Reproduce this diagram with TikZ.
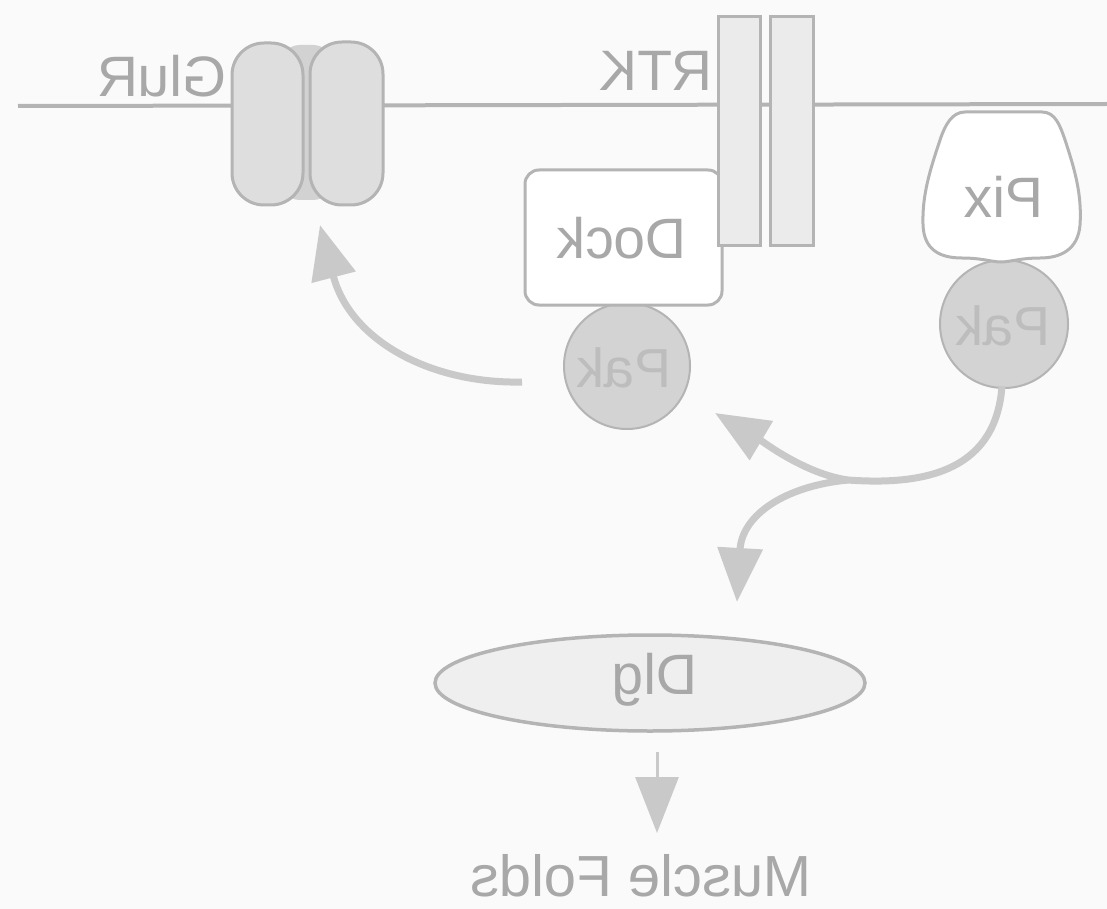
\documentclass[tikz,border=0pt]{standalone}
\usepackage{graphicx}
\usepackage{fontspec}
\setmainfont{Liberation Sans}
\usetikzlibrary{arrows.meta,shapes.geometric}
\definecolor{txtgray}{HTML}{A8A8A8}
\definecolor{edgegray}{HTML}{B4B4B4}
\definecolor{capfill}{HTML}{DEDEDE}
\definecolor{midfill}{HTML}{D2D2D2}
\definecolor{rtkfill}{HTML}{EBEBEB}
\definecolor{pakfill}{HTML}{D3D3D3}
\definecolor{pakText}{HTML}{BDBDBD}
\definecolor{arrowgray}{HTML}{C9C9C9}
\definecolor{dlgfill}{HTML}{EFEFEF}
\definecolor{bggray}{HTML}{FAFAFA}
\begin{document}
\begin{tikzpicture}[x=1pt,y=-1pt,
  lbl/.style={text=txtgray, font=\fontsize{57}{60}\selectfont, inner sep=0pt},
  membrane/.style={draw=edgegray, line width=4pt},
  capsule/.style={draw=edgegray, fill=capfill, line width=3pt, rounded corners=32pt, inner sep=0pt},
  rtkbar/.style={draw=edgegray, fill=rtkfill, line width=3pt, inner sep=0pt},
  dockbox/.style={draw=edgegray, fill=white, line width=3pt, rounded corners=14pt, inner sep=0pt},
  pakball/.style={circle, draw=edgegray, fill=pakfill, line width=2pt, inner sep=0pt},
  pixshape/.style={draw=edgegray, fill=white, line width=3pt},
  dlgshape/.style={ellipse, draw=edgegray, fill=dlgfill, line width=3.5pt, inner sep=0pt},
  bigarrow/.style={draw=arrowgray, line width=7pt, -{Triangle[length=54pt,width=44pt]}},
  stem/.style={draw=arrowgray, line width=7pt},
  smallarrow/.style={draw=arrowgray, line width=3pt, -{Triangle[length=56pt,width=43pt]}}
]
% canvas
\fill[bggray] (0,0) rectangle (1107,909);
\useasboundingbox (0,0) rectangle (1107,909);

% membrane
\coordinate (mL) at (18,106);
\coordinate (mR) at (1107,104);
\draw[membrane] (mL) -- (mR);

% GluR
\node[capsule, draw=none, fill=midfill, rounded corners=20pt, minimum width=53pt, minimum height=155pt] (glmid) at (306.5,122.5) {};
\node[capsule, minimum width=71pt, minimum height=162pt] (gl1) at (267.5,124) {};
\node[capsule, minimum width=73pt, minimum height=163pt] (gl2) at (346.5,123.5) {};
\node[lbl] (glurlbl) at (162,76) {\reflectbox{GluR}};

% Pak (left), Dock, RTK
\node[pakball, minimum size=126pt] (pakL) at (627,366) {};
\node[lbl, text=pakText, font=\fontsize{55}{58}\selectfont] (pakLlbl) at (624,368) {\reflectbox{Pak}};
\node[dockbox, minimum width=197pt, minimum height=135pt] (dock) at (623.5,237.5) {};
\node[lbl] (docklbl) at (622,238) {\reflectbox{Dock}};
\node[rtkbar, minimum width=42pt, minimum height=228pt] (rtk1) at (739,131) {};
\node[rtkbar, minimum width=43pt, minimum height=228pt] (rtk2) at (791.5,131) {};
\node[lbl] (rtklbl) at (656,71) {\reflectbox{RTK}};

% Pak (right), Pix
\node[pakball, minimum size=128pt] (pakR) at (1004,324) {};
\node[lbl, text=pakText, font=\fontsize{55}{58}\selectfont] (pakRlbl) at (1003,326) {\reflectbox{Pak}};
\draw[pixshape] (965,112) -- (1042,112)
  .. controls (1055,112) and (1060,125) .. (1065,140)
  .. controls (1075,170) and (1082,195) .. (1080,225)
  .. controls (1078,250) and (1060,258) .. (1040,258)
  .. controls (1020,258) and (1010,262) .. (1001,262)
  .. controls (992,262) and (982,258) .. (962,258)
  .. controls (940,258) and (924,250) .. (923,225)
  .. controls (922,195) and (930,170) .. (940,140)
  .. controls (945,125) and (952,112) .. (965,112) -- cycle;
\node[lbl] (pix) at (1004,197) {\reflectbox{Pix}};

% Dlg and Muscle Folds
\node[dlgshape, minimum width=430pt, minimum height=96pt] (dlg) at (650,683) {};
\node[lbl] (dlglbl) at (655,680) {\reflectbox{Dlg}};
\node[lbl, font=\fontsize{58}{61}\selectfont] (folds) at (641,876) {\reflectbox{Muscle Folds}};

% arrows
\coordinate (a1s) at (522,382);
\coordinate (a1e) at (320,225);
\draw[bigarrow] (a1s) .. controls (430,384) and (350,340) .. (a1e);

\coordinate (stemS) at (1002,386);
\coordinate (junc) at (848,480);
\coordinate (upTip) at (715,413);
\coordinate (downTip) at (737,602);
\draw[stem] (stemS) .. controls (996,468) and (930,486) .. (junc);
\draw[bigarrow] (junc) .. controls (805,474) and (762,441) .. (upTip);
\draw[bigarrow] (junc) .. controls (785,486) and (742,515) .. (downTip);

\coordinate (dlgArrS) at (657,752);
\coordinate (dlgArrE) at (657,833);
\draw[smallarrow] (dlgArrS) -- (dlgArrE);
\end{tikzpicture}
\end{document}
